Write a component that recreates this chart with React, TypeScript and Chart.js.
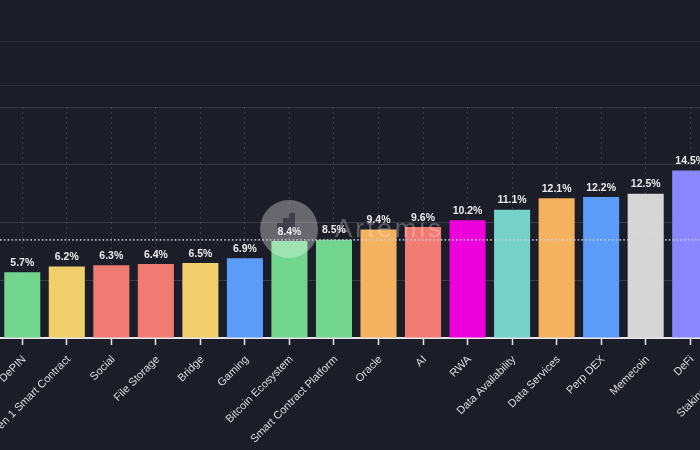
import React, { useEffect, useRef } from "react";
import { Chart, registerables } from "chart.js";

Chart.register(...registerables);

const categories = [
  "DePIN",
  "Gen 1 Smart Contract",
  "Social",
  "File Storage",
  "Bridge",
  "Gaming",
  "Bitcoin Ecosystem",
  "Smart Contract Platform",
  "Oracle",
  "AI",
  "RWA",
  "Data Availability",
  "Data Services",
  "Perp DEX",
  "Memecoin",
  "DeFi",
  "Staking Services",
];

const values: (number | null)[] = [
  5.7, 6.2, 6.3, 6.4, 6.5, 6.9, 8.4, 8.5, 9.4, 9.6, 10.2, 11.1, 12.1, 12.2, 12.5, 14.5, null,
];

const barColors = [
  "#72d58e",
  "#f0cf6a",
  "#ef7b73",
  "#ef7b73",
  "#f0cf6a",
  "#5b9cf8",
  "#72d58e",
  "#72d58e",
  "#f4b15e",
  "#ef7b73",
  "#ee00dc",
  "#76d1c8",
  "#f4b15e",
  "#5b9cf8",
  "#d6d6d6",
  "#8a86ff",
  "#72d58e",
];

const referenceLine = 8.5;
const yMin = 0;
const yMax = 20;
const yStep = 5;

const BG = "#1b1d29";
const FONT = "'Liberation Sans', Arial, Helvetica, sans-serif";

const CANVAS_W = 877;
const CANVAS_H = 450;
const OFFSET_X = 100;

const decorPlugin = {
  id: "decor",
  beforeDraw(chart: any) {
    const ctx = chart.ctx;
    ctx.save();
    ctx.fillStyle = BG;
    ctx.fillRect(0, 0, chart.width, chart.height);
    ctx.strokeStyle = "rgba(255,255,255,0.08)";
    ctx.lineWidth = 1;
    [41, 85].forEach((y) => {
      ctx.beginPath();
      ctx.moveTo(0, y + 0.5);
      ctx.lineTo(chart.width, y + 0.5);
      ctx.stroke();
    });
    ctx.restore();
  },
  afterDatasetsDraw(chart: any) {
    const ctx = chart.ctx;
    const area = chart.chartArea;
    const yScale = chart.scales.y;
    ctx.save();

    // watermark
    const cx = area.left + 289;
    const cy = area.top + 122;
    ctx.fillStyle = "rgba(255,255,255,0.33)";
    ctx.beginPath();
    ctx.arc(cx, cy, 29, 0, Math.PI * 2);
    ctx.fill();
    ctx.fillStyle = "rgba(27,29,41,0.55)";
    ctx.fillRect(cx - 12, cy - 6, 6, 6);
    ctx.fillRect(cx - 6, cy - 11, 6, 11);
    ctx.fillRect(cx, cy - 16, 6, 16);
    ctx.fillRect(cx - 6, cy, 6, 4);
    ctx.fillStyle = "rgba(255,255,255,0.28)";
    ctx.font = `26px ${FONT}`;
    (ctx as any).letterSpacing = "3px";
    ctx.textAlign = "left";
    ctx.textBaseline = "middle";
    ctx.fillText("Artemis", cx + 46, cy + 1);
    (ctx as any).letterSpacing = "0px";

    // reference dotted line
    const ry = yScale.getPixelForValue(referenceLine);
    ctx.strokeStyle = "rgba(205,208,220,0.85)";
    ctx.lineWidth = 1.6;
    ctx.setLineDash([1.6, 2.2]);
    ctx.beginPath();
    ctx.moveTo(area.left, ry);
    ctx.lineTo(area.right, ry);
    ctx.stroke();
    ctx.setLineDash([]);

    // value labels
    const meta = chart.getDatasetMeta(0);
    ctx.fillStyle = "#e9e9ee";
    ctx.font = `bold 10.5px ${FONT}`;
    ctx.textAlign = "center";
    ctx.textBaseline = "bottom";
    meta.data.forEach((bar: any, i: number) => {
      const v = values[i];
      if (v === null || v === undefined) return;
      ctx.fillText(`${v.toFixed(1)}%`, bar.x, bar.y - 4);
    });
    ctx.restore();
  },
};

export default function App() {
  const ref = useRef<HTMLCanvasElement | null>(null);

  useEffect(() => {
    document.body.style.margin = "0";
    document.body.style.background = BG;
    const canvas = ref.current;
    if (!canvas) return;
    const chart = new Chart(canvas, {
      type: "bar",
      data: {
        labels: categories,
        datasets: [
          {
            data: values,
            backgroundColor: barColors,
            borderWidth: 0,
            categoryPercentage: 0.9,
            barPercentage: 0.9,
          },
        ],
      },
      options: {
        responsive: false,
        animation: false,
        devicePixelRatio: 1,
        layout: { padding: { left: OFFSET_X, top: 107, right: 20, bottom: 0 } },
        plugins: {
          legend: { display: false },
          tooltip: { enabled: false },
          title: { display: false },
        },
        scales: {
          x: {
            offset: true,
            grid: {
              offset: false,
              color: "rgba(255,255,255,0.15)",
              lineWidth: 1,
              drawTicks: true,
              tickLength: 7,
              tickWidth: 1.5,
              tickColor: "#e6e6ea",
            },
            border: { display: true, color: "#e6e6ea", width: 2, dash: [2, 3] },
            ticks: {
              color: "#dcdce0",
              font: { family: FONT, size: 11 },
              minRotation: 45,
              maxRotation: 45,
              autoSkip: false,
              padding: 8,
              labelOffset: 2,
            },
            afterFit: (scale: any) => {
              scale.height = 112;
            },
          },
          y: {
            min: yMin,
            max: yMax,
            grid: { color: "rgba(255,255,255,0.13)", drawTicks: false, lineWidth: 1 },
            border: { display: false },
            ticks: { display: false, stepSize: yStep },
            afterFit: (scale: any) => {
              scale.width = 0;
            },
          },
        },
      },
      plugins: [decorPlugin],
    });
    return () => chart.destroy();
  }, []);

  return (
    <div
      style={{
        position: "fixed",
        left: 0,
        top: 0,
        width: 700,
        height: 450,
        overflow: "hidden",
        background: BG,
      }}
    >
      <canvas
        ref={ref}
        width={CANVAS_W}
        height={CANVAS_H}
        style={{ position: "absolute", left: -OFFSET_X, top: 0, width: CANVAS_W, height: CANVAS_H }}
      />
    </div>
  );
}
